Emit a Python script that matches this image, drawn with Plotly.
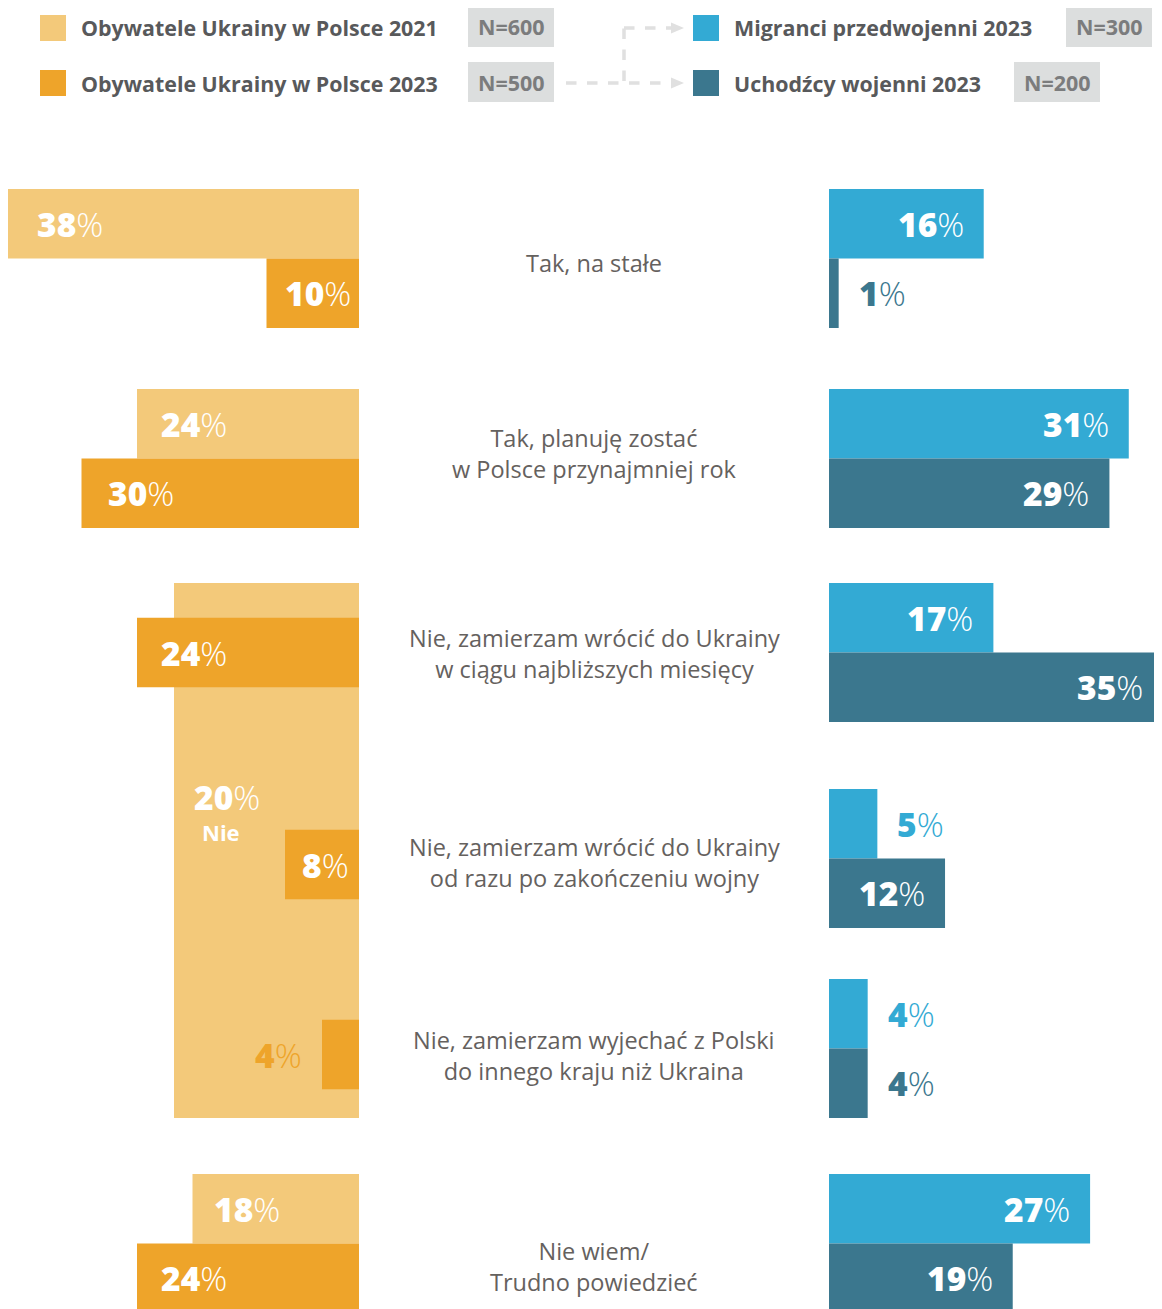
import plotly.graph_objects as go

# The page puts the figure 8 px in from the top-left corner
OFF = 8
REF_W, REF_H = 1162, 1309
W, H = REF_W - OFF, REF_H - OFF

# ---------------- data ----------------
categories = [
    "Tak, na stałe",
    "Tak, planuję zostać<br>w Polsce przynajmniej rok",
    "Nie, zamierzam wrócić do Ukrainy<br>w ciągu najbliższych miesięcy",
    "Nie, zamierzam wrócić do Ukrainy<br>od razu po zakończeniu wojny",
    "Nie, zamierzam wyjechać z Polski<br>do innego kraju niż Ukraina",
    "Nie wiem/<br>Trudno powiedzieć",
]
# 2021 survey: the three "Nie" answers were one combined option
cats_2021 = ["Tak, na stałe", "Tak, planuję zostać", "Nie", "Nie wiem"]
cats_2021_rows = [[0], [1], [2, 3, 4], [5]]
ua_2021 = [38, 24, 20, 18]
ua_2023 = [10, 30, 24, 8, 4, 24]
migranci_2023 = [16, 31, 17, 5, 4, 27]
uchodzcy_2023 = [1, 29, 35, 12, 4, 19]

series_names = [
    "Obywatele Ukrainy w Polsce 2021",
    "Obywatele Ukrainy w Polsce 2023",
    "Migranci przedwojenni 2023",
    "Uchodźcy wojenni 2023",
]
sample_sizes = ["N=600", "N=500", "N=300", "N=200"]

# ---------------- style / layout ----------------
C21 = "#f3c97a"
C23 = "#eea42a"
CMIG = "#33aad4"
CUCH = "#3b778e"
LABEL_C = "#65615e"
LEG_C = "#58595b"
NBOX_C = "#dcdede"
NTXT_C = "#7b7c7d"
DASH_C = "#e0e0e0"
FONT = "Open Sans"

ROW_TOP = [189, 389, 583, 789, 979, 1174]
BAR_H = 69.5
LABEL_Y = [263, 453, 653, 862, 1055, 1266]
LEFT_END_PX = 359
RIGHT_START_PX = 829
PX_LEFT = 9.25   # pixels per percentage point, left panel
PX_RIGHT = 9.67  # pixels per percentage point, right panel
LEFT_MAX = (LEFT_END_PX - OFF) / PX_LEFT
RIGHT_MAX = (REF_W - RIGHT_START_PX) / PX_RIGHT
OUTSIDE_MAX = 6  # values below this get their label outside the bar
VAL_SIZE = 33.5


def px(x):
    return (x - OFF) / W


def py(y):
    return 1 - (y - OFF) / H


fig = go.Figure()

# 2021 bars (left)
y21, w21 = [], []
for rows in cats_2021_rows:
    if len(rows) == 1:
        y21.append(ROW_TOP[rows[0]] + BAR_H / 2)
        w21.append(BAR_H)
    else:
        top = ROW_TOP[rows[0]]
        bot = ROW_TOP[rows[-1]] + 2 * BAR_H
        y21.append((top + bot) / 2)
        w21.append(bot - top)

nie_rows = cats_2021_rows[2]
y23 = []
for i in range(len(categories)):
    if i in nie_rows:
        y23.append(ROW_TOP[i] + BAR_H + (0 if i == nie_rows[0] else 6))
    else:
        y23.append(ROW_TOP[i] + 1.5 * BAR_H)

ymig = [t + BAR_H / 2 for t in ROW_TOP]
yuch = [t + 1.5 * BAR_H for t in ROW_TOP]

fig.add_trace(go.Bar(x=ua_2021, y=y21, width=w21, orientation="h", base=0,
                     marker=dict(color=C21, line=dict(width=0)), name=series_names[0],
                     xaxis="x", yaxis="y"))
fig.add_trace(go.Bar(x=ua_2023, y=y23, width=[BAR_H] * len(y23), orientation="h", base=0,
                     marker=dict(color=C23, line=dict(width=0)), name=series_names[1],
                     xaxis="x", yaxis="y"))
fig.add_trace(go.Bar(x=migranci_2023, y=ymig, width=[BAR_H] * len(ymig), orientation="h", base=0,
                     marker=dict(color=CMIG, line=dict(width=0)), name=series_names[2],
                     xaxis="x2", yaxis="y"))
fig.add_trace(go.Bar(x=uchodzcy_2023, y=yuch, width=[BAR_H] * len(yuch), orientation="h", base=0,
                     marker=dict(color=CUCH, line=dict(width=0)), name=series_names[3],
                     xaxis="x2", yaxis="y"))

annotations = []
shapes = []


def val_text(v):
    return ("<span style='font-weight:800'>%d</span>"
            "<span style='font-weight:300'>%%</span>" % v)


def add_val(v, y, side, outside, color, shift=None):
    font_in = dict(family=FONT, size=VAL_SIZE, color="white")
    font_out = dict(family=FONT, size=VAL_SIZE, color=color)
    if side == "left":
        xa = min(v, LEFT_MAX)
        extra = (v - xa) * PX_LEFT  # part of the bar cut off by the page edge
        if outside:
            annotations.append(dict(x=xa, y=y, xref="x", yref="y", text=val_text(v),
                                    xanchor="right", yanchor="middle", xshift=-18,
                                    showarrow=False, font=font_out))
        else:
            if shift is None:
                shift = 12 + 0.045 * v * PX_LEFT
            annotations.append(dict(x=xa, y=y, xref="x", yref="y", text=val_text(v),
                                    xanchor="left", yanchor="middle",
                                    xshift=shift - extra,
                                    showarrow=False, font=font_in))
    else:
        xa = min(v, RIGHT_MAX)
        extra = (v - xa) * PX_RIGHT
        if outside:
            annotations.append(dict(x=xa, y=y, xref="x2", yref="y", text=val_text(v),
                                    xanchor="left", yanchor="middle", xshift=18,
                                    showarrow=False, font=font_out))
        else:
            annotations.append(dict(x=xa, y=y, xref="x2", yref="y",
                                    text=val_text(v), xanchor="right", yanchor="middle",
                                    xshift=-18 + extra * 0.2, showarrow=False, font=font_in))


for k, v in enumerate(ua_2021):
    rows = cats_2021_rows[k]
    if len(rows) == 1:
        add_val(v, y21[k], "left", False, C21)
    else:
        ty = ROW_TOP[rows[1]] + 8
        add_val(v, ty, "left", False, C21, shift=18)
        annotations.append(dict(x=v, y=ty + 35, xref="x", yref="y",
                                text="<b>%s</b>" % cats_2021[k],
                                xanchor="center", yanchor="middle", xshift=47,
                                showarrow=False, font=dict(family=FONT, size=22, color="white")))
for v, y in zip(ua_2023, y23):
    add_val(v, y, "left", v < OUTSIDE_MAX, C23)
for v, y in zip(migranci_2023, ymig):
    add_val(v, y, "right", v < OUTSIDE_MAX, CMIG)
for v, y in zip(uchodzcy_2023, yuch):
    add_val(v, y, "right", v < OUTSIDE_MAX, CUCH)

# category labels (centre column)
cx = px((LEFT_END_PX + RIGHT_START_PX) / 2)
for cat, ly in zip(categories, LABEL_Y):
    annotations.append(dict(x=cx, y=ly, xref="paper", yref="y",
                            text="<span style='font-weight:500'>%s</span>" % cat,
                            xanchor="center", yanchor="middle", showarrow=False,
                            font=dict(family=FONT, size=23.5, color=LABEL_C)))

# ---------------- legend (drawn manually) ----------------
leg = [
    (40, 28, C21, 81, (468, 7, 554, 47)),
    (40, 83, C23, 81, (468, 62, 554, 102)),
    (693, 28, CMIG, 734, (1066, 7, 1152, 47)),
    (693, 83, CUCH, 734, (1014, 62, 1100, 102)),
]
for (sx, sy, col, tx, nb), name, nsz in zip(leg, series_names, sample_sizes):
    shapes.append(dict(type="rect", xref="paper", yref="paper",
                       x0=px(sx), x1=px(sx + 26), y0=py(sy - 13), y1=py(sy + 13),
                       fillcolor=col, line=dict(width=0)))
    annotations.append(dict(x=px(tx - 2), y=py(sy), xref="paper", yref="paper",
                            text="<b>%s</b>" % name, xanchor="left", yanchor="middle",
                            showarrow=False, font=dict(family=FONT, size=21.4, color=LEG_C)))
    shapes.append(dict(type="rect", xref="paper", yref="paper",
                       x0=px(nb[0]), x1=px(nb[2]), y0=py(nb[1]), y1=py(nb[3]),
                       fillcolor=NBOX_C, line=dict(width=0)))
    annotations.append(dict(x=px((nb[0] + nb[2]) / 2), y=py((nb[1] + nb[3]) / 2),
                            xref="paper", yref="paper", text="<b>%s</b>" % nsz,
                            xanchor="center", yanchor="middle", showarrow=False,
                            font=dict(family=FONT, size=21.5, color=NTXT_C)))

# dashed connector arrows
dash_line = dict(color=DASH_C, width=3.5, dash="dash")
shapes.append(dict(type="line", xref="paper", yref="paper", x0=px(566), x1=px(674),
                   y0=py(83), y1=py(83), line=dash_line))
shapes.append(dict(type="line", xref="paper", yref="paper", x0=px(624), x1=px(624),
                   y0=py(81), y1=py(28), line=dash_line))
shapes.append(dict(type="line", xref="paper", yref="paper", x0=px(624), x1=px(674),
                   y0=py(28), y1=py(28), line=dash_line))
for ay in (28, 83):
    path = "M %f %f L %f %f L %f %f Z" % (px(671), py(ay - 5.5), px(684), py(ay),
                                          px(671), py(ay + 5.5))
    shapes.append(dict(type="path", xref="paper", yref="paper", path=path,
                       fillcolor=DASH_C, line=dict(width=0)))

hidden = dict(showgrid=False, zeroline=False, showticklabels=False, showline=False, ticks="")
fig.update_layout(
    width=W, height=H,
    margin=dict(l=0, r=0, t=0, b=0),
    paper_bgcolor="white", plot_bgcolor="white",
    barmode="overlay",
    showlegend=False,
    xaxis=dict(domain=[0, px(LEFT_END_PX)], range=[LEFT_MAX, 0],
               fixedrange=True, **hidden),
    xaxis2=dict(domain=[px(RIGHT_START_PX), 1], range=[0, RIGHT_MAX], anchor="y",
                fixedrange=True, **hidden),
    yaxis=dict(domain=[0, 1], range=[REF_H, OFF], fixedrange=True, **hidden),
    annotations=annotations,
    shapes=shapes,
    font=dict(family=FONT),
)
fig.update_traces(hoverinfo="skip")

fig.write_html("out.html")
